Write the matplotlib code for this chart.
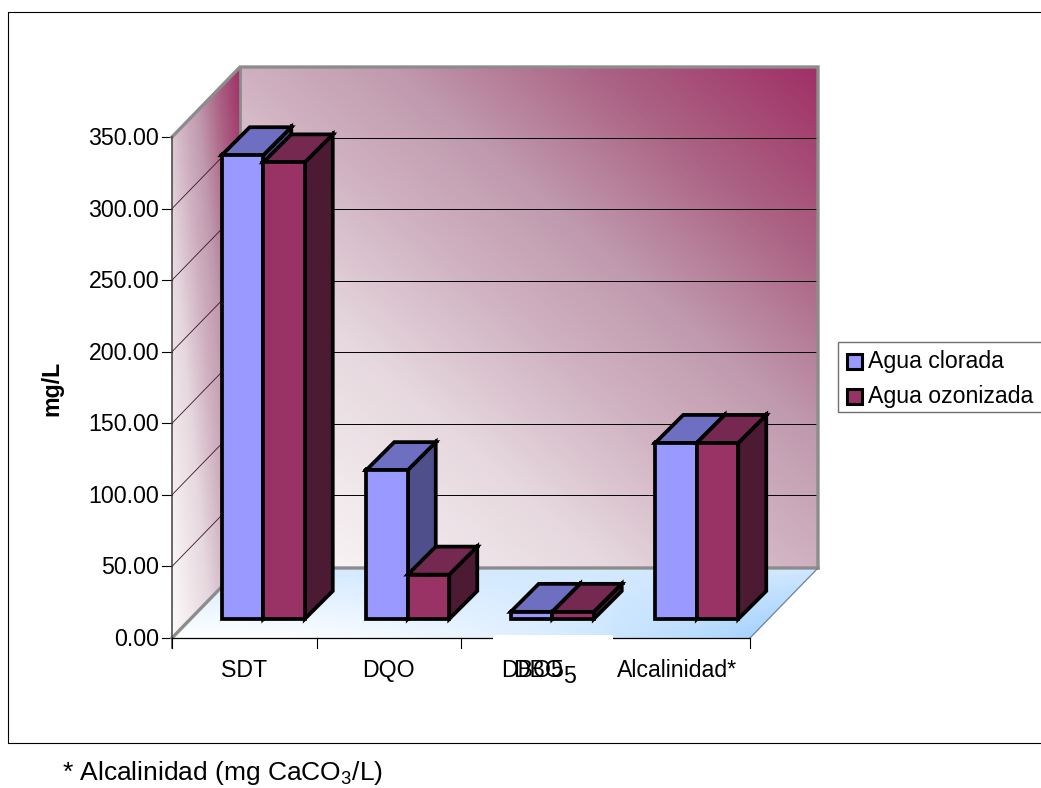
import numpy as np
import matplotlib
matplotlib.use('Agg')
import matplotlib.pyplot as plt
from matplotlib.colors import LinearSegmentedColormap
from matplotlib.patches import Polygon, Rectangle

plt.rcParams['font.family'] = ['Liberation Sans', 'DejaVu Sans']
plt.rcParams['mathtext.default'] = 'regular'

categories = ['SDT', 'DQO', 'DBO5', 'Alcalinidad*']
agua_clorada = [324, 104, 5, 123]
agua_ozonizada = [319, 31, 5, 123]
y_ticks = [0, 50, 100, 150, 200, 250, 300, 350]
series_names = ['Agua clorada', 'Agua ozonizada']

# colours: front, top, side
blue = ['#9999ff', '#6f6fc2', '#4f4f8c']
maroon = ['#993366', '#752850', '#4c1a33']

# pixel layout of the fake 3d box
left, right = 172, 750
bottom = 638
wall_dx, wall_dy = 68, 70
per_unit = (638 - 137) / 350
base_dx, base_dy = 19, 19
bar_w = 41.5
bar_d = 28
fs = 16.7

wall_cmap = LinearSegmentedColormap.from_list('wall', [(0, '#fdfbfb'), (0.32, '#e6d8de'), (0.5, '#cfb0c0'),
                                                      (0.63, '#c09aae'), (0.81, '#ab6284'), (1, '#a03066')])
floor_cmap = LinearSegmentedColormap.from_list('floor', ['#ffffff', '#80c0ff'])

fig = plt.figure(figsize=(10.41, 7.88), dpi=100)
ax = fig.add_axes([0, 0, 1, 1])


def gradient(func, x0, x1, y0, y1, corners, cmap):
    xs, ys = np.meshgrid(np.linspace(0, 1, 300), np.linspace(0, 1, 300))
    t = np.clip(func(xs, ys), 0, 1)
    im = ax.imshow(t, cmap=cmap, vmin=0, vmax=1, extent=(x0, x1, y1, y0), origin='lower',
                   aspect='auto', zorder=1)
    im.set_clip_path(Polygon(corners, transform=ax.transData))


top_y = bottom - 350 * per_unit

# ys goes 0 at y1 (bottom of box) up to 1 at y0 (top)
gradient(lambda u, v: (u + v) / 2, left + wall_dx, right + wall_dx, top_y - wall_dy, bottom - wall_dy,
         [(left + wall_dx, top_y - wall_dy), (right + wall_dx, top_y - wall_dy),
          (right + wall_dx, bottom - wall_dy), (left + wall_dx, bottom - wall_dy)], wall_cmap)
gradient(lambda u, v: u * 0.55 + v * 0.45, left, left + wall_dx, top_y - wall_dy, bottom,
         [(left, top_y), (left + wall_dx, top_y - wall_dy),
          (left + wall_dx, bottom - wall_dy), (left, bottom)], wall_cmap)
gradient(lambda u, v: 0.85 * u ** 2 * (1 - v) + 0.35 * v, left, right + wall_dx, bottom - wall_dy, bottom,
         [(left, bottom), (right, bottom), (right + wall_dx, bottom - wall_dy), (left + wall_dx, bottom - wall_dy)],
         floor_cmap)

# gridlines on back and side wall
for v in y_ticks:
    yy = bottom - v * per_unit
    if v > 0 and v < 350:
        ax.plot([left + wall_dx, right + wall_dx], [yy - wall_dy - 1] * 2, color='black', lw=0.7, zorder=2)
        ax.plot([left, left + wall_dx], [yy, yy - wall_dy], color='#3a1526', lw=0.6, zorder=2)
    ax.plot([left - 10, left], [yy, yy], color='black', lw=0.8, zorder=2)
    ax.text(left - 13, yy + 8, '%.2f' % v, ha='right', va='baseline', fontsize=fs, color='black')

# grey edges of the walls
grey = '#8c8c8c'
ax.plot([left, left + wall_dx, right + wall_dx, right + wall_dx], [top_y, top_y - wall_dy, top_y - wall_dy, bottom - wall_dy],
        color=grey, lw=2.4, zorder=3, solid_joinstyle='miter')
ax.plot([left + wall_dx, left + wall_dx], [top_y - wall_dy, bottom - wall_dy], color=grey, lw=2.0, zorder=3)
ax.plot([left, left + wall_dx, right + wall_dx], [bottom, bottom - wall_dy, bottom - wall_dy], color=grey, lw=2.4, zorder=3)
ax.plot([right, right + wall_dx], [bottom, bottom - wall_dy], color='#6f8296', lw=0.9, zorder=3)

# axis lines
ax.plot([left, left], [top_y, bottom + 10], color='#404040', lw=1.1, zorder=4)
ax.plot([left, right], [bottom, bottom], color='black', lw=0.9, zorder=4)
step = (right - left) / len(categories)
for i in range(len(categories) + 1):
    ax.plot([left + i * step] * 2, [bottom, bottom + 10], color='black', lw=0.8, zorder=4)

# the label background hides part of the axis under DBO5
ax.add_patch(Rectangle((493, bottom - 3), 120, 20, facecolor='white', edgecolor='none', zorder=5))


def bar3d(x, value, cols, z):
    y = bottom - base_dy
    h = value * per_unit
    d = bar_d
    kw = dict(edgecolor='black', linewidth=2.7, joinstyle='miter', zorder=z)
    ax.add_patch(Polygon([(x + bar_w, y), (x + bar_w + d, y - d), (x + bar_w + d, y - h - d), (x + bar_w, y - h)],
                         facecolor=cols[2], **kw))
    ax.add_patch(Polygon([(x, y - h), (x + d, y - h - d), (x + bar_w + d, y - h - d), (x + bar_w, y - h)],
                         facecolor=cols[1], **kw))
    ax.add_patch(Rectangle((x, y - h), bar_w, h, facecolor=cols[0], **kw))
    ax.plot([x + bar_w + d, x], [y - h - d, y - h], ls='none', marker='+', ms=5, mew=1.2, color='black', zorder=z)


for i in range(len(categories)):
    x = left + (i + 0.5) * step + base_dx - bar_w
    bar3d(x, agua_clorada[i], blue, 6 + 2 * i)
    bar3d(x + bar_w, agua_ozonizada[i], maroon, 7 + 2 * i)

# category labels, DBO5 is drawn twice like in the original
for i, c in enumerate(categories):
    xc = left + (i + 0.5) * step
    if c == 'DBO5':
        xc = 533
    elif c == 'Alcalinidad*':
        xc = 677
    ax.text(xc, 677, c, ha='center', va='baseline', fontsize=fs, zorder=20)
ax.text(513, 677, 'DBO', ha='left', va='baseline', fontsize=fs, zorder=20)
ax.text(563, 683, '5', ha='left', va='baseline', fontsize=fs, zorder=20)

ax.text(52, 388, 'mg/L', rotation=90, ha='center', va='center', fontsize=fs, fontweight='bold')

# legend
ax.add_patch(Rectangle((838, 342), 230, 70, facecolor='white', edgecolor='#707070', linewidth=1.0, zorder=5))
for i, name in enumerate(series_names):
    ax.add_patch(Rectangle((847, 354 + i * 35), 14.5, 14.5, facecolor=[blue, maroon][i][0], edgecolor='black',
                           linewidth=2.2, zorder=6))
    ax.text(868, 368 + i * 35, name, ha='left', va='baseline', fontsize=fs, zorder=6)

# chart frame and note
ax.add_patch(Rectangle((8, 12), 1100, 731, facecolor='none', edgecolor='black', linewidth=0.8, zorder=0.5))
ax.text(62, 773, '* Alcalinidad (mg CaCO$_3$/L)', ha='left', va='center', fontsize=19)

ax.set_xlim(0, 1041)
ax.set_ylim(788, 0)
ax.axis('off')
fig.savefig('out.png', dpi=100)
